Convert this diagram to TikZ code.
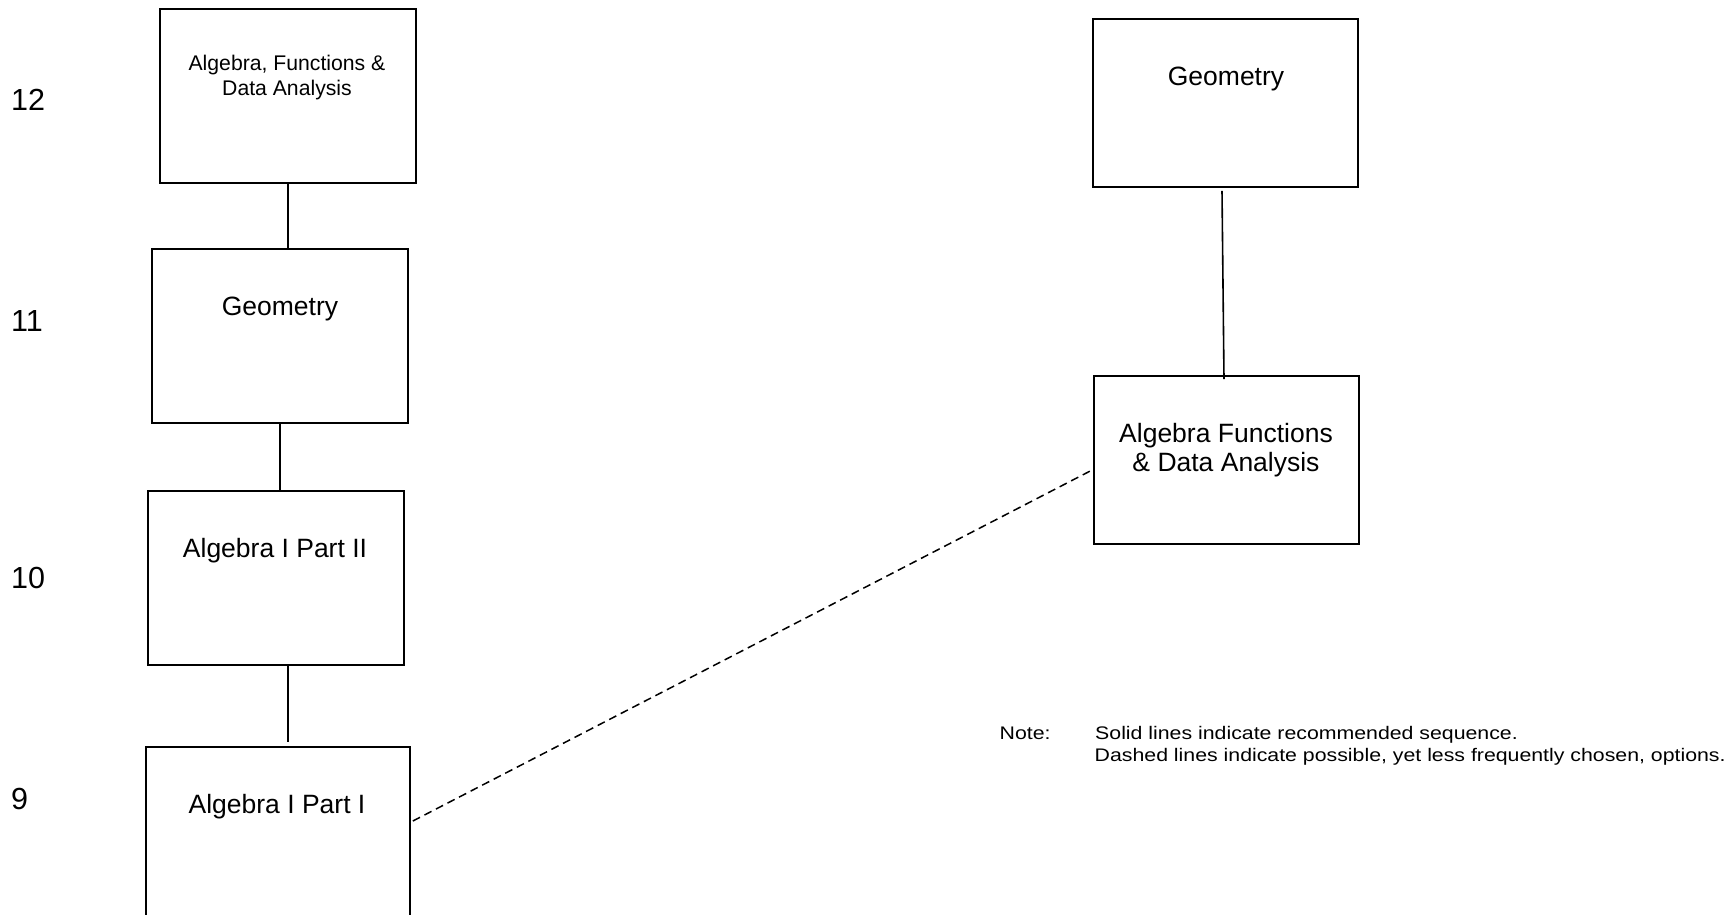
\documentclass[tikz,border=0pt]{standalone}
\usepackage{fontspec}
\setmainfont{Liberation Sans}
\newfontfamily\notefont{Liberation Sans}[FakeStretch=1.17]
\begin{document}
\begin{tikzpicture}[x=1pt,y=-1pt,
  box/.style={draw=black,line width=1.7pt,rectangle,inner sep=0pt,minimum width=#1},
  box/.default=256pt,
  boxtxt/.style={anchor=base,inner sep=0pt,font=\fontsize{26.5}{30}\selectfont},
  smalltxt/.style={anchor=base,inner sep=0pt,font=\fontsize{21.2}{25}\selectfont},
  grade/.style={anchor=base west,inner sep=0pt,font=\fontsize{30.5}{34}\selectfont},
  notetxt/.style={anchor=base west,inner sep=0pt,font=\notefont\fontsize{18.2}{22}\selectfont},
  link/.style={draw=black,line width=1.6pt},
  optlink/.style={draw=black,line width=1.5pt,dash pattern=on 8pt off 5pt}]
\useasboundingbox (0,0) rectangle (1735,914);
\clip (0,0) rectangle (1735,914);
\fill[white] (0,0) rectangle (1735,914);

% left column
\node[box,minimum height=174pt] (A) at (288,96) {};
\node[box,minimum height=174pt] (B) at (280,336) {};
\node[box,minimum height=174pt] (C) at (276,578) {};
\node[box=264pt,minimum height=174pt] (D) at (278,834) {};

\node[smalltxt] (tA1) at (287,70) {Algebra, Functions \&};
\node[smalltxt] (tA2) at (287,95.5) {Data Analysis};
\node[boxtxt] (tB) at (280,315) {Geometry};
\node[boxtxt] (tC) at (275,557) {Algebra I Part II};
\node[boxtxt] (tD) at (277,813) {Algebra I Part I};

% right column
\node[box=265pt,minimum height=168pt] (E) at (1225.5,103) {};
\node[box=265pt,minimum height=168pt] (F) at (1226.5,460) {};
\node[boxtxt] (tE) at (1226,85) {Geometry};
\node[boxtxt] (tF1) at (1226,442) {Algebra Functions};
\node[boxtxt] (tF2) at (1226,471) {\& Data Analysis};

% grades
\node[grade] (g12) at (11,110) {12};
\node[grade] (g11) at (11,331) {11};
\node[grade] (g10) at (11,588) {10};
\node[grade] (g9) at (11,809) {9};

% connectors
\draw[link] (A.south) -- (A.south |- B.north);
\draw[link] (B.south) -- (B.south |- C.north);
\draw[link] ([xshift=12pt]C.south) -- ([xshift=12pt,yshift=4pt]C.south |- D.north);
\draw[link] ([shift={(-3.5,3)}]E.south) -- ([shift={(-2.5,4)}]F.north);
\draw[optlink] ([shift={(2,-13)}]D.east) -- ([shift={(-1,10)}]F.west);

% note
\node[notetxt] (note) at (999.5,739) {Note:};
\node[notetxt] (n1) at (1095,739) {Solid lines indicate recommended sequence.};
\node[notetxt] (n2) at (1094.5,761.5) {Dashed lines indicate possible, yet less frequently chosen, options.};
\end{tikzpicture}
\end{document}
